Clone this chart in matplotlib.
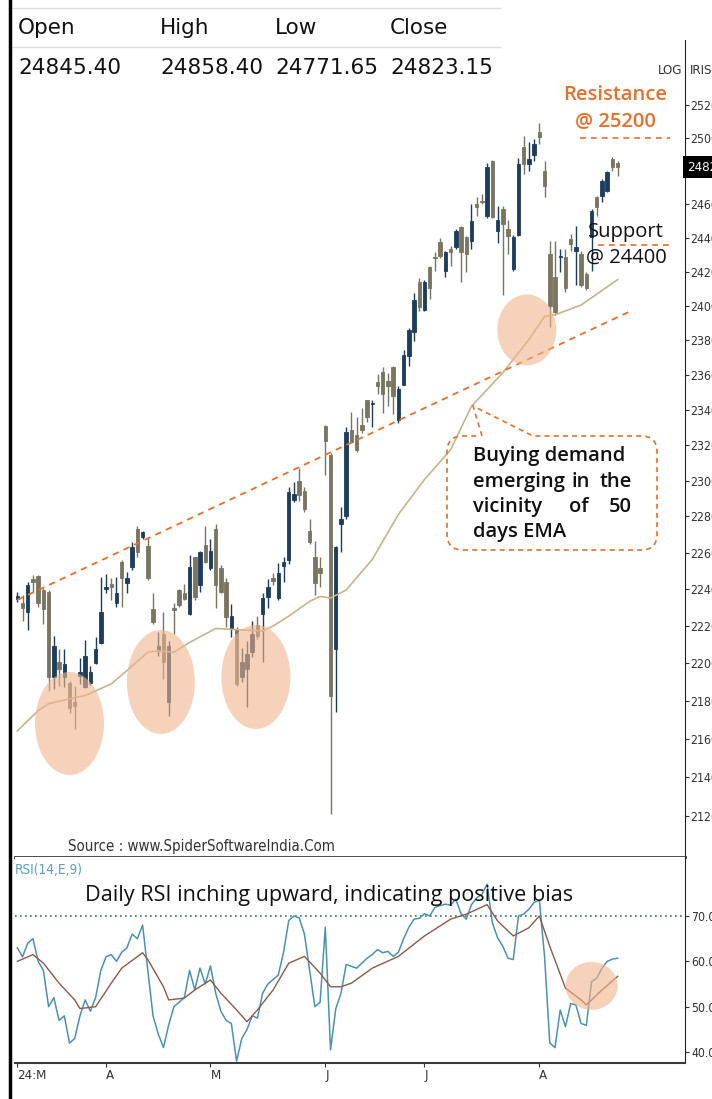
import numpy as np
import matplotlib
matplotlib.use('Agg')
import matplotlib.pyplot as plt
import matplotlib.transforms as mtransforms
from matplotlib.patches import Ellipse, FancyBboxPatch
from matplotlib.lines import Line2D
from matplotlib.ticker import NullLocator
from matplotlib.font_manager import FontProperties
from matplotlib import font_manager

W, H = 712, 1099

# Velas diarias (índice de sesión 0..115)
opens = [22348, 22327, 22274, 22457, 22474, 22396, 22386, 21927, 22007, 21927,
         21895, 21795, 21933, 21874, 21895, 22001, 22108, 22402, 22429, 22327,
         22551, 22435, 22524, 22729, 22685, 22635, 22290, 22066, 22156, 21795,
         22300, 22396, 22380, 22263, 22574, 22424, 22640, 22518, 22729, 22518,
         22441, 22188, 22183, 21927, 21970, 22060, 22204, 22263, 22359, 22463,
         22354, 22529, 22562, 22890, 23000, 22940, 22718, 22579, 22518, 23309,
         23145, 22076, 22757, 22800, 23286, 23258, 23315, 23453, 23430, 23556,
         23614, 23562, 23642, 23344, 23544, 23706, 23849, 24136, 23975, 24225,
         24285, 24374, 24201, 24333, 24345, 24464, 24404, 24380, 24601, 24619,
         24530, 24858, 24440, 24571, 24452, 24213, 24416, 24948, 24840, 24894,
         25037, 24798, 24303, 24171, 24285, 24285, 24392, 24321, 24303, 24183,
         24404, 24643, 24649, 24679, 24870, 24845.40]
highs = [22386, 22370, 22441, 22479, 22479, 22407, 22396, 22146, 22076, 22076,
         21906, 21879, 22028, 22124, 21986, 22140, 22468, 22485, 22463, 22468,
         22562, 22496, 22657, 22745, 22718, 22685, 22380, 22167, 22274, 22119,
         22327, 22402, 22429, 22585, 22579, 22607, 22745, 22674, 22757, 22535,
         22463, 22322, 22194, 22082, 22119, 22226, 22252, 22380, 22457, 22490,
         22546, 22579, 22962, 22990, 23073, 22962, 22785, 22662, 22574, 23315,
         23156, 22635, 22851, 23300, 23390, 23361, 23412, 23458, 23458, 23602,
         23642, 23608, 23648, 23533, 23740, 23872, 24076, 24165, 24153, 24231,
         24315, 24398, 24321, 24350, 24452, 24470, 24410, 24601, 24643, 24661,
         24846, 24864, 24589, 24589, 24506, 24416, 24876, 25013, 24977, 24995,
         25091, 24858, 24380, 24380, 24333, 24333, 24422, 24470, 24321, 24195,
         24571, 24649, 24750, 24798, 24882, 24858.40]
lows = [22332, 22226, 22178, 22386, 22306, 22210, 21853, 21863, 21879, 21874,
        21735, 21650, 21890, 21870, 21885, 21997, 22103, 22380, 22343, 22306,
        22306, 22380, 22507, 22574, 22674, 22452, 22210, 22039, 21917, 21720,
        22156, 22306, 22343, 22258, 22343, 22386, 22546, 22507, 22300, 22380,
        22194, 22140, 21879, 21901, 21767, 22034, 22130, 22007, 22300, 22424,
        22343, 22441, 22540, 22879, 22884, 22823, 22646, 22369, 22413, 23034,
        21208, 21741, 22602, 22785, 23211, 23160, 23269, 23332, 23304, 23487,
        23384, 23419, 23373, 23327, 23539, 23648, 23792, 23970, 23970, 24040,
        24201, 24279, 24171, 24231, 24333, 24141, 24195, 24333, 24530, 24601,
        24518, 24518, 24368, 24064, 24303, 24201, 24410, 24781, 24798, 24858,
        24965, 24643, 23878, 23947, 24195, 24082, 24321, 24124, 24112, 24094,
        24201, 24530, 24613, 24673, 24798, 24771.65]
closes = [22364, 22300, 22424, 22441, 22327, 22290, 21927, 22092, 21970, 21997,
          21762, 21773, 21954, 22039, 21954, 22076, 22274, 22413, 22413, 22380,
          22463, 22463, 22629, 22602, 22712, 22463, 22221, 22092, 22007, 22092,
          22285, 22316, 22348, 22524, 22359, 22602, 22551, 22607, 22424, 22386,
          22247, 22252, 21890, 22007, 22050, 22156, 22146, 22354, 22413, 22446,
          22490, 22551, 22934, 22923, 22918, 22840, 22657, 22435, 22490, 23223,
          21826, 22629, 22785, 23275, 23217, 23173, 23286, 23361, 23441, 23533,
          23487, 23533, 23476, 23516, 23711, 23861, 24034, 23993, 24136, 24106,
          24279, 24291, 24315, 24315, 24440, 24315, 24303, 24500, 24583, 24613,
          24822, 24524, 24506, 24482, 24410, 24404, 24840, 24840, 24870, 24965,
          25007, 24709, 24000, 23964, 24291, 24106, 24362, 24345, 24124, 24106,
          24559, 24583, 24738, 24792, 24822, 24823.15]

# EMA 50 (índice, valor)
ema_idx = [0, 4, 6, 10, 13, 18, 21, 25, 27, 30, 33, 38, 43, 47, 49, 52, 56, 58,
           60, 63, 68, 73, 78, 83, 87, 93, 98, 101, 103, 108, 115]
ema_val = [21641, 21748, 21785, 21810, 21828, 21890, 21961, 22059, 22067, 22059,
           22112, 22187, 22179, 22174, 22200, 22254, 22334, 22361, 22352, 22396,
           22563, 22812, 23006, 23173, 23420, 23612, 23803, 23937, 23947, 24004,
           24153]

# RSI(14) y su señal
rsi = [63, 61, 64, 65, 60, 58, 50, 52, 47, 48,
       42, 43, 48, 51.5, 49, 52, 58, 61, 61.5, 60,
       62, 63, 66, 65, 68, 58, 48, 44, 41, 46,
       50, 51, 52, 58, 53.7, 58.5, 55, 59, 53, 49,
       47, 46.3, 38, 43, 45, 48, 47.5, 53, 55, 56,
       57, 62, 69, 70, 69.6, 66, 58, 50, 51, 67.5,
       40.5, 49.5, 53, 59.3, 58.9, 58.5, 59.6, 60.7, 61.5, 62.6,
       61.9, 62.2, 61.1, 62, 65, 67.5, 69.3, 69.5, 70.5, 70,
       71.9, 72.3, 72.6, 72.4, 73.7, 70.5, 69.3, 72.5, 74, 74.8,
       77, 68.5, 65.2, 63.3, 60.7, 60.4, 70, 70.4, 71.5, 73,
       73.5, 61, 42, 41, 49.3, 45.6, 50.7, 50.4, 46.3, 45.9,
       55.5, 56.3, 58.5, 60, 60.5, 60.7]
sig_idx = [0, 3, 5, 8, 11, 12, 15, 18, 20, 24, 25, 28, 29, 32, 34, 37, 39, 42, 44,
           46, 49, 52, 55, 58, 60, 62, 64, 68, 73, 78, 83, 86, 90, 92, 95, 98, 100,
           102, 105, 108, 109, 112, 115]
sig_val = [60, 61.5, 59.6, 55.2, 51.5, 49.6, 50, 55.2, 58.5, 61.9, 60.4, 54.4, 51.5,
           51.9, 53.7, 55.9, 53, 49.3, 46.7, 49.3, 53.7, 59.6, 61.1, 57.4, 54.4, 54.4,
           55.2, 58.5, 61.1, 65.6, 69.3, 70.4, 72.5, 68.9, 65.6, 67.4, 70, 63.3, 54.1,
           51.5, 50.4, 53.7, 56.7]

price_ticks = list(range(21200, 25201, 200))
rsi_ticks = [40, 50, 60, 70]
month_idx = [0, 17, 37, 59, 78, 100]
month_lbl = ["24:M", "A", "M", "J", "J", "A"]
header_lbl = ["Open", "High", "Low", "Close"]
header_val = ["24845.40", "24858.40", "24771.65", "24823.15"]

# colores
UP = '#1d3d5e'
DOWN = '#7a7560'
ORANGE = '#e8702a'
PEACH = '#f0b48e'

# fuentes: una estrecha para los ejes, una ancha para las notas
names = {f.name for f in font_manager.fontManager.ttflist}


def is_regular(f):
    return f.style == 'normal' and str(f.weight) in ('400', 'normal', 'regular', 'book')


cond_path = None
for f in font_manager.fontManager.ttflist:
    if f.name == 'Liberation Sans Narrow' and is_regular(f):
        cond_path = f.fname
        break
if cond_path is None:
    for f in font_manager.fontManager.ttflist:
        if ('condensed' in str(f.stretch) or 'Condensed' in f.fname) and is_regular(f):
            cond_path = f.fname
            break
if cond_path:
    NARROW = FontProperties(fname=cond_path)
    nscale = 1.0
else:
    NARROW = FontProperties(family='Liberation Sans')
    nscale = 0.85

NOTE = 'Open Sans' if 'Open Sans' in names else ('Lato' if 'Lato' in names else 'DejaVu Sans')


def nfont(size):
    fp = NARROW.copy()
    fp.set_size(size * nscale)
    return fp


fig = plt.figure(figsize=(W / 100, H / 100), dpi=100)


def rect(x0, y0, x1, y1):
    return [x0 / W, 1 - y1 / H, (x1 - x0) / W, (y1 - y0) / H]


def ftext(x, y, s, **kw):
    fig.text(x / W, 1 - y / H, s, **kw)


def blob(axis, x, y, w, h):
    tr = fig.dpi_scale_trans + mtransforms.ScaledTranslation(x, y, axis.transData)
    axis.add_patch(Ellipse((0, 0), w / 100, h / 100, transform=tr,
                           facecolor=PEACH, edgecolor='none', alpha=0.6, zorder=6))


# ---- panel de precios ----
ax = fig.add_axes(rect(15, 40, 685, 857))
ax.set_yscale('log')
o = np.array(opens); h = np.array(highs); l = np.array(lows); c = np.array(closes)
idx = np.arange(len(c))
cols = np.where(c >= o, UP, DOWN)
ax.vlines(idx, l, h, colors=cols, lw=1.0, zorder=3)
ax.bar(idx, np.abs(c - o), bottom=np.minimum(o, c), width=0.66, color=cols,
       edgecolor=cols, linewidth=0.6, zorder=4)
ax.plot(ema_idx, ema_val, color='#c8b48c', lw=1.2, zorder=5)

# líneas de tendencia, resistencia y soporte
ax.plot([0, 117.9], [22342, 23975], color=ORANGE, lw=1.3, ls=(0, (3.5, 3)), zorder=5)
ax.plot([107.8, 125], [25000, 25000], color=ORANGE, lw=1.2, ls=(0, (3.5, 3)), zorder=5)
ax.plot([111.3, 125], [24357, 24357], color=ORANGE, lw=1.2, ls=(0, (3.5, 3)), zorder=5)

blob(ax, 10.0, 21680, 69, 103)
blob(ax, 27.5, 21900, 68, 104)
blob(ax, 45.7, 21927, 69, 104)
blob(ax, 97.6, 23859, 59, 71)

ax.set_xlim(-0.44, 127.9)
ax.set_ylim(20987, 25603)
ax.yaxis.tick_right()
ax.set_yticks(price_ticks)
ax.set_yticklabels([str(v) for v in price_ticks])
ax.yaxis.set_minor_locator(NullLocator())
ax.set_xticks([])
ax.tick_params(axis='y', direction='out', length=3, pad=0.5, colors='#333333', width=0.8)
for t in ax.get_yticklabels():
    t.set_fontproperties(nfont(8.8))
for s in ['top', 'left']:
    ax.spines[s].set_visible(False)
ax.spines['right'].set_color('#222222')
ax.spines['bottom'].set_color('#3a3a3a')
ax.spines['bottom'].set_linewidth(2)

ax.text(1.003, closes[-1], '24823.15', transform=ax.get_yaxis_transform(),
        color='white', fontproperties=nfont(9.5), va='center', ha='left', clip_on=False,
        bbox=dict(facecolor='black', edgecolor='none', pad=3), zorder=10)

# ---- panel RSI ----
rax = fig.add_axes(rect(15, 857, 685, 1063))
rax.plot(idx, rsi, color='#4a93b0', lw=1.1, zorder=3)
rax.plot(sig_idx, sig_val, color='#8c5a4c', lw=1.0, zorder=4)
rax.axhline(70, color='#2e7d52', lw=1.2, ls=(0, (1, 2)), zorder=2)
blob(rax, 110, 54.6, 52, 48)
rax.set_xlim(-0.44, 127.9)
rax.set_ylim(37.6, 83.0)
rax.yaxis.tick_right()
rax.set_yticks(rsi_ticks)
rax.set_yticklabels(['%.2f' % v for v in rsi_ticks])
rax.set_xticks(month_idx)
rax.set_xticklabels(month_lbl, ha='left')
rax.tick_params(axis='both', direction='out', length=3, pad=1.5, colors='#333333', width=0.8)
for t in rax.get_yticklabels():
    t.set_fontproperties(nfont(8.8))
for t in rax.get_xticklabels():
    t.set_fontproperties(nfont(9.5))
for s in ['top', 'left']:
    rax.spines[s].set_visible(False)
rax.spines['right'].set_color('#222222')
rax.spines['bottom'].set_color('#3a3a3a')
rax.spines['bottom'].set_linewidth(1.5)

# ---- textos ----
for x, lab, val in zip([18, 160, 275, 390], header_lbl, header_val):
    ftext(x, 28, lab, fontsize=15.5, va='center', color='#111111')
    ftext(x, 68, val, fontsize=15.5, va='center', color='#111111')
for yy in [8, 47]:
    fig.add_artist(Line2D([10 / W, 500 / W], [1 - yy / H] * 2, color='#dedede', lw=1))
fig.add_artist(Line2D([10 / W, 10 / W], [0, 1], color='black', lw=2.5))

ftext(682, 70, 'LOG', fontproperties=nfont(9.5), ha='right', va='center', color='#333333')
ftext(690, 70, 'IRIS', fontproperties=nfont(9.5), ha='left', va='center', color='#333333')

ftext(615, 95, 'Resistance', fontsize=14.5, ha='center', va='center', color=ORANGE,
      family=NOTE, weight='semibold')
ftext(615, 121, '@ 25200', fontsize=14.5, ha='center', va='center', color=ORANGE,
      family=NOTE, weight='semibold')
ftext(626, 232, 'Support', fontsize=14.5, ha='center', va='center', color='#111111', family=NOTE)
ftext(626, 258, '@ 24400', fontsize=14.5, ha='center', va='center', color='#111111', family=NOTE)

bold = dict(fontsize=14.5, va='center', color='#111111', family=NOTE, weight='semibold')
ftext(473, 456, 'Buying demand', ha='left', **bold)
ftext(473, 482, 'emerging', ha='left', **bold)
ftext(581, 482, 'in', ha='center', **bold)
ftext(632, 482, 'the', ha='right', **bold)
ftext(473, 507, 'vicinity', ha='left', **bold)
ftext(579, 507, 'of', ha='center', **bold)
ftext(632, 507, '50', ha='right', **bold)
ftext(473, 532, 'days EMA', ha='left', **bold)

ident = mtransforms.IdentityTransform()
fig.add_artist(FancyBboxPatch((447, H - 550), 210, 114,
                              boxstyle='round,pad=0,rounding_size=16', transform=ident,
                              facecolor='none', edgecolor=ORANGE, lw=1.2, ls=(0, (3, 2.5))))
fig.add_artist(Line2D([482, 533], [H - 436, H - 436], transform=ident, color='white', lw=3))
fig.add_artist(Line2D([482, 473, 533], [H - 436, H - 406, H - 436], transform=ident,
                      color=ORANGE, lw=1.2, ls=(0, (3, 2.5))))

ftext(68, 846, 'Source : www.SpiderSoftwareIndia.Com', fontproperties=nfont(10.8),
      va='center', color='#333333')
ftext(15, 870, 'RSI(14,E,9)', fontproperties=nfont(9.8), va='center', color='#5a9fc9')
ftext(85, 896, 'Daily RSI inching upward, indicating positive bias', fontsize=15.6,
      va='center', color='#111111', family=NOTE)

fig.savefig('out.png', dpi=100, facecolor='white')
